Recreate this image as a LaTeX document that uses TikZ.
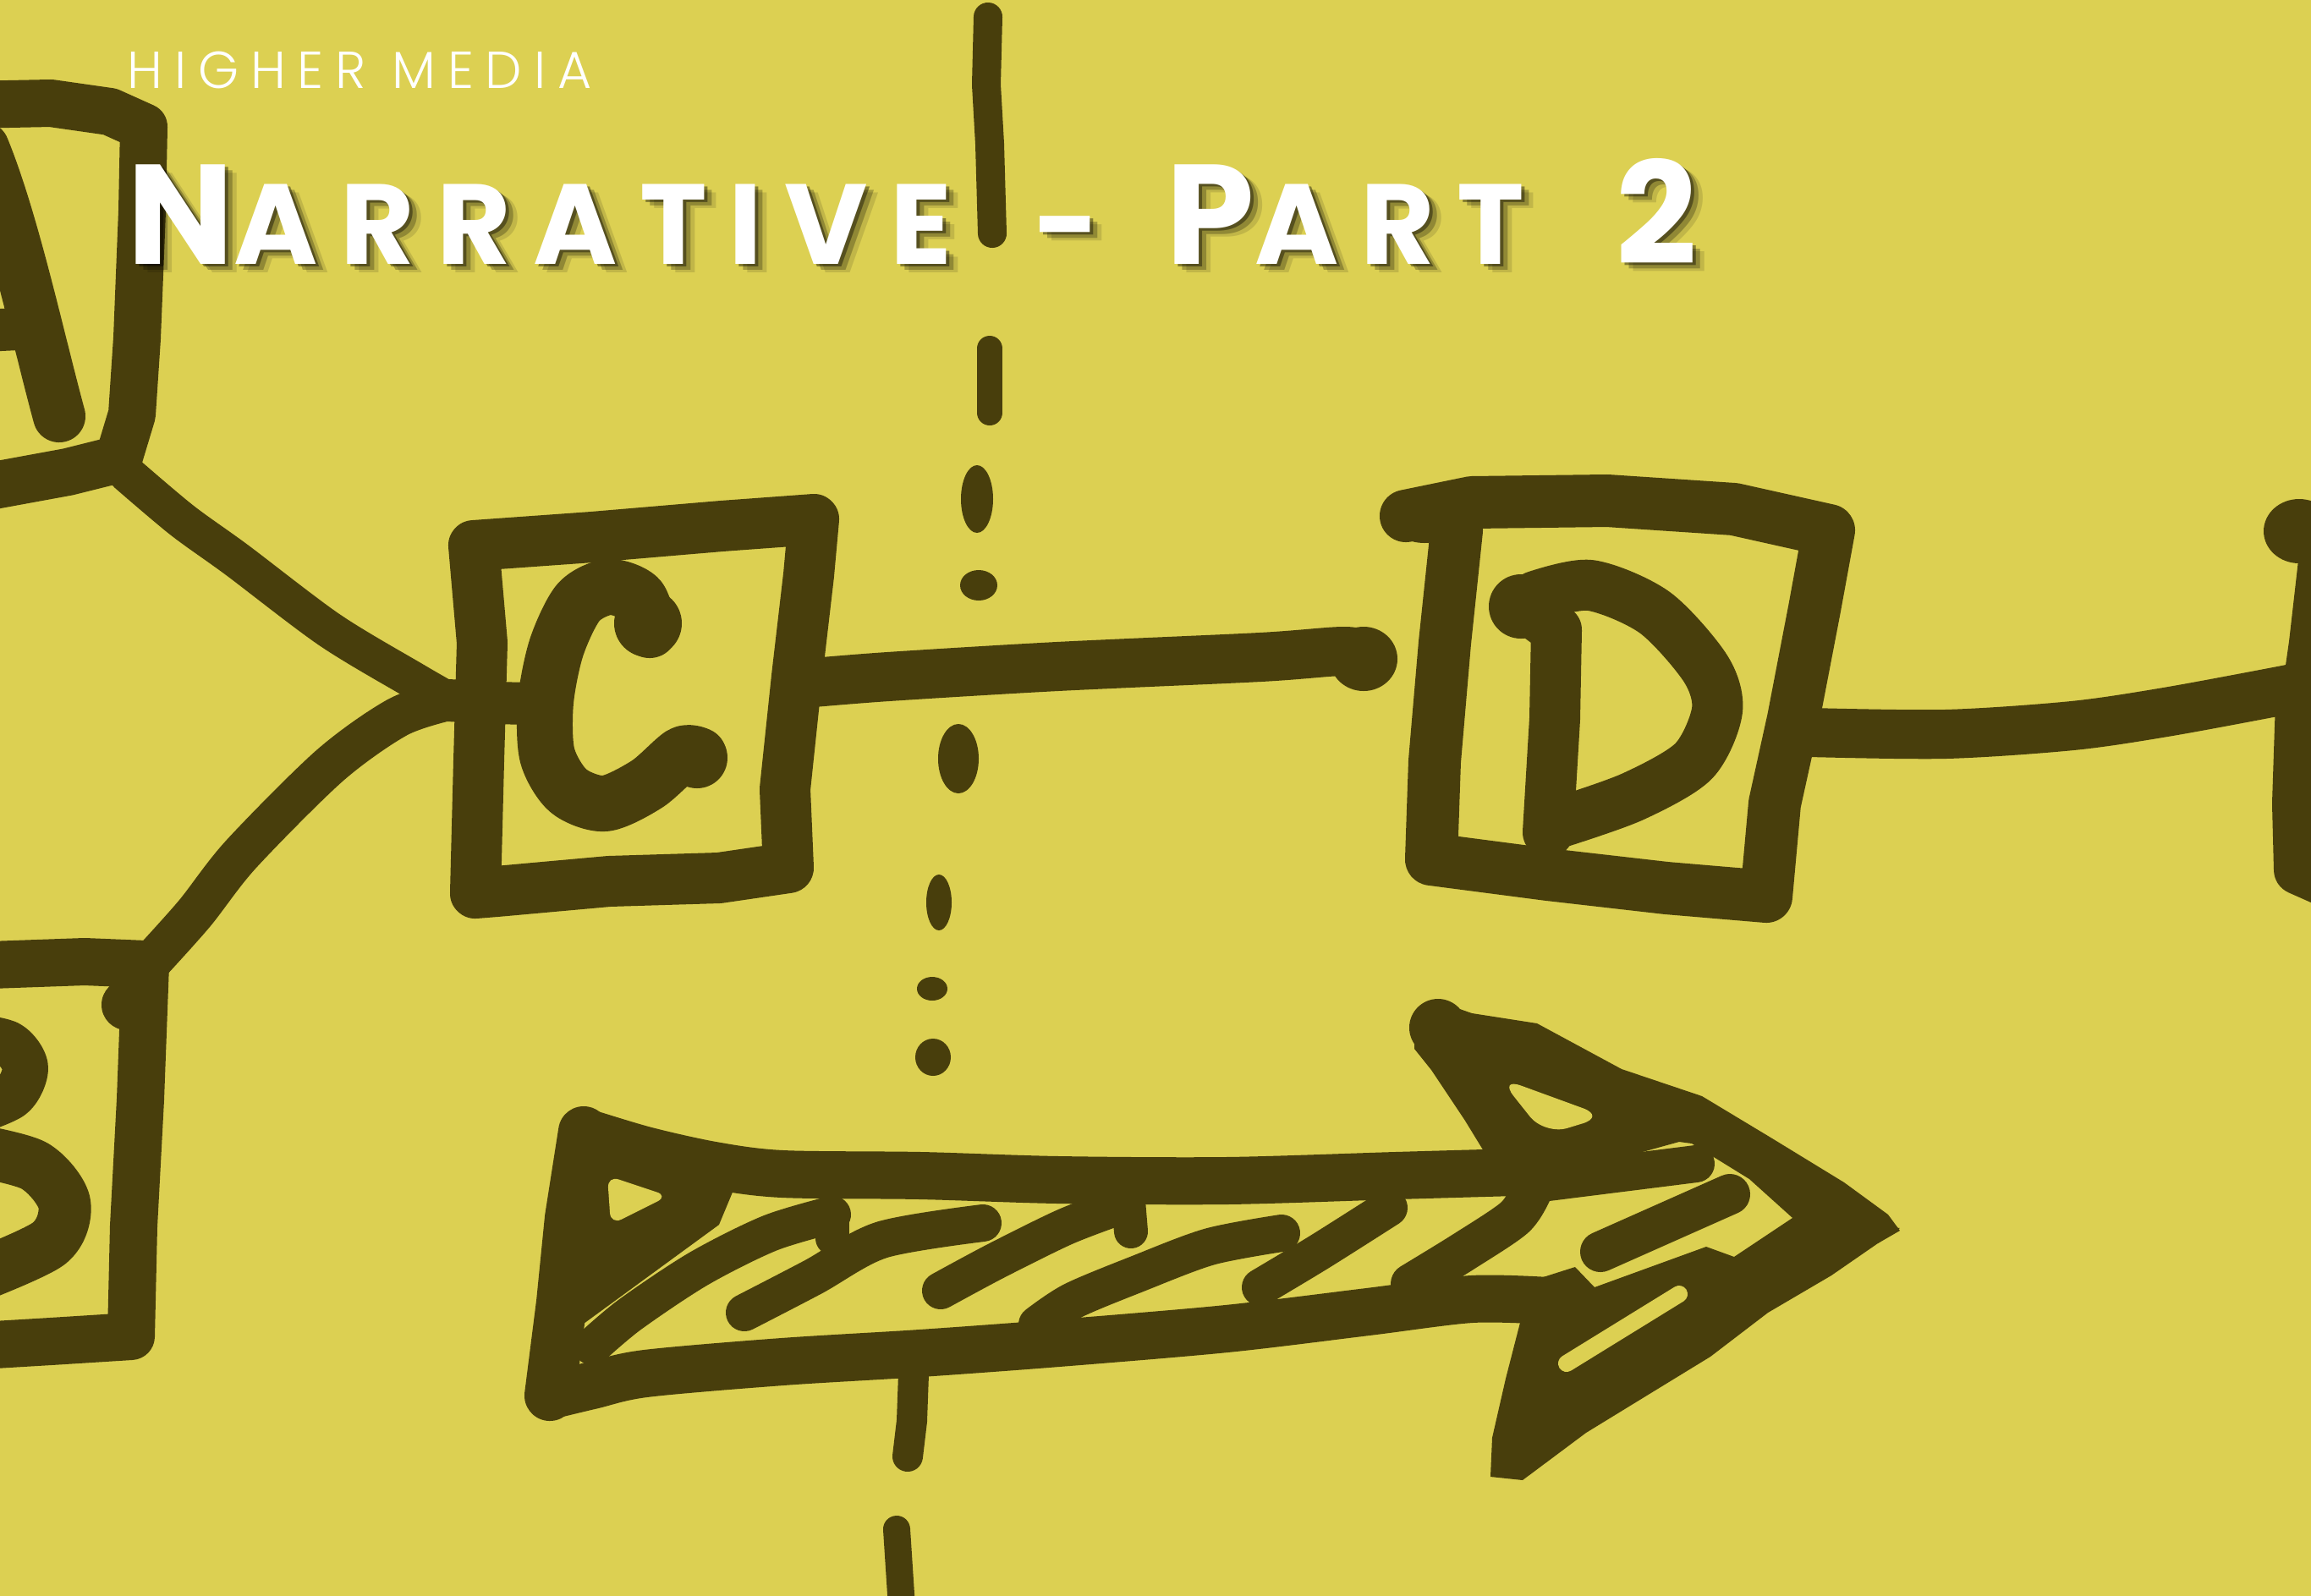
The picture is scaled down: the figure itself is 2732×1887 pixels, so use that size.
\documentclass[tikz,border=0pt]{standalone}
\usepackage{fontspec}
\newfontfamily\titlefont{Poppins Bold}[LetterSpace=19.5]
\newfontfamily\labelfont{Poppins Light}[LetterSpace=22.5]
\definecolor{bg}{RGB}{220,208,82}
\definecolor{ink}{RGB}{72,62,12}
\newcommand\tbig[1]{{\fontsize{47.7pt}{50pt}\selectfont #1}}
\newcommand\tsmall[1]{{\fontsize{38.3pt}{40pt}\selectfont #1}}
\newcommand\shadowed[3]{%
  \foreach \dx/\dy/\op in {4/3/0.4,9/7/0.25,14/10/0.12}{%
    \node[anchor=base west,inner sep=0,text=black,opacity=\op,xshift=\dx*0.01cm,yshift=-\dy*0.01cm] at (#2) {#3};}%
  \node[anchor=base west,inner sep=0,text=white] (#1) at (#2) {#3};}
\begin{document}
\begin{tikzpicture}[x=0.01cm,y=-0.01cm,
  pen/.style={draw=ink,line width=#1*0.2845pt,line cap=round,line join=round}]
\useasboundingbox (0,0) rectangle (2732,1887);
\fill[bg] (0,0) rectangle (2732,1887);
\clip (0,0) rectangle (2732,1887);

% ---- box A (partly off the left edge)
\draw[pen=56] (-40,124) -- (60,122) -- (130,132) -- (170,150) -- (168,250) -- (162,400) -- (156,490) -- (140,543) -- (80,558) -- (-40,580);
\draw[pen=62] (-20,175) .. controls (15,260) and (45,400) .. (70,492);
\draw[pen=50] (-40,392) -- (42,388);

% ---- box B (partly off the left edge)
\draw[pen=56] (-40,1142) -- (100,1137) -- (172,1140) -- (166,1300) -- (158,1450) -- (155,1580) -- (60,1586) -- (-40,1592);
\fill[ink] (150,1188) circle (30);
\draw[pen=54] plot[smooth] coordinates {(-40,1224) (10,1234) (30,1262) (14,1296) (-40,1318)};
\draw[pen=62] plot[smooth] coordinates {(-40,1358) (40,1378) (76,1422) (58,1470) (-40,1514)};

% ---- connectors into C
\coordinate (j) at (530,828);
\draw[pen=44] plot[smooth] coordinates {(150,560) (215,615) (280,662) (390,745) (490,805) (530,828)};
\draw[pen=48] plot[smooth] coordinates {(178,1138) (230,1080) (285,1010) (390,905) (470,848) (530,828)};
\draw[pen=50] (j) -- (580,831) -- (630,832);

% ---- box C
\draw[pen=60] (560,645) -- (700,635) -- (853,622) -- (962,614) -- (956,680) -- (942,800) -- (928,933) -- (932,1026) -- (850,1038) -- (720,1042) -- (587,1054) -- (562,1056) -- (566,900) -- (570,760) -- cycle;
\draw[pen=66] plot[smooth] coordinates {(768,745) (755,707) (720,694) (684,712) (658,765) (645,830) (647,893) (672,935) (715,950) (765,927) (806,892) (826,893)};
\fill[ink] (766,737) circle (40);
\fill[ink] (824,896) circle (36);

% ---- C to D
\draw[pen=58] plot[smooth] coordinates {(950,808) (1050,800) (1250,788) (1490,777) (1590,770) (1620,778)};
\fill[ink] (1612,779) ellipse (40 and 38);

% ---- box D
\draw[pen=62] (1662,610) -- (1740,594) -- (1900,592) -- (2050,602) -- (2162,627) -- (2145,720) -- (2120,850) -- (2098,950) -- (2088,1060) -- (1970,1050) -- (1830,1034) -- (1692,1016) -- (1696,900) -- (1708,760) -- (1722,627);
\fill[ink] (1684,614) ellipse (40 and 28);
\draw[pen=60] (1800,715) -- (1840,745) -- (1838,850) -- (1830,984);
\draw[pen=60] plot[smooth] coordinates {(1815,705) (1880,692) (1956,724) (2016,790) (2030,840) (2002,900) (1930,942) (1845,972)};
\fill[ink] (1798,717) circle (38);

% ---- D to E
\draw[pen=58] plot[smooth] coordinates {(2140,866) (2300,868) (2450,858) (2560,842) (2690,818) (2750,806)};
\fill[ink] (2718,628) ellipse (42 and 38);
\draw[pen=44] (2740,655) -- (2728,760) -- (2718,830);
\draw[pen=60] (2720,830) -- (2716,950) -- (2718,1028) -- (2745,1040);

% ---- dashed divider
\draw[pen=34] (1168,20) -- (1166,100) -- (1170,170) -- (1173,276);
\draw[pen=30] (1170,412) -- (1170,488);
\fill[ink] (1155,590) ellipse (19 and 40);
\fill[ink] (1157,692) ellipse (22 and 18);
\fill[ink] (1133,897) ellipse (24 and 41);
\fill[ink] (1110,1067) ellipse (15 and 33);
\fill[ink] (1102,1169) ellipse (18 and 14);
\fill[ink] (1103,1250) ellipse (21 and 22);
\draw[pen=36] (1080,1625) -- (1078,1680) -- (1073,1722);
\draw[pen=32] (1060,1808) -- (1066,1900);

% ---- big arrow: shaft
\draw[pen=56] plot[smooth] coordinates {(690,1338) (763,1360) (844,1378) (925,1388) (1088,1390) (1251,1395) (1450,1396) (1650,1390) (1790,1386)};
\draw[pen=60] (690,1338) -- (674,1440) -- (664,1540) -- (650,1650);
\draw[pen=56] plot[smooth] coordinates {(650,1650) (700,1638) (763,1624) (925,1610) (1088,1600) (1251,1588) (1450,1571) (1617,1551) (1740,1536) (1830,1538)};
\fill[ink] (680,1330) -- (800,1360) -- (875,1388) -- (850,1448) -- (690,1565) -- cycle;
\fill[bg,rounded corners=4] (718,1390) -- (790,1414) -- (722,1448) -- cycle;
% hatching
\draw[pen=44] plot[smooth] coordinates {(700,1592) (745,1554) (826,1500) (910,1458) (984,1436)};
\draw[pen=40] (984,1438) -- (984,1464);
\draw[pen=44] plot[smooth] coordinates {(880,1552) (961,1510) (1042,1466) (1162,1446)};
\draw[pen=44] plot[smooth] coordinates {(1112,1526) (1177,1491) (1258,1451) (1318,1428)};
\draw[pen=40] (1334,1420) -- (1337,1456);
\draw[pen=44] plot[smooth] coordinates {(1226,1566) (1268,1538) (1345,1506) (1430,1474) (1515,1458)};
\draw[pen=44] plot[smooth] coordinates {(1490,1522) (1560,1480) (1642,1428)};
\draw[pen=48] plot[smooth] coordinates {(1668,1518) (1730,1480) (1790,1440) (1810,1410)};

% ---- big arrow: head
\fill[ink] (1672,1200) -- (1700,1184) -- (1740,1198) -- (1817,1210) -- (1917,1264) -- (2012,1296) -- (2095,1346) -- (2180,1398) -- (2232,1436) -- (2246,1455) -- (2220,1470) -- (2128,1448) -- (2068,1394) -- (2000,1352) -- (1985,1350) -- (1920,1368) -- (1850,1390) -- (1795,1412) -- (1762,1374) -- (1732,1325) -- (1692,1265) -- (1672,1240) -- cycle;
\fill[ink] (1700,1215) circle (34);
\fill[bg,rounded corners=8] (1772,1274) -- (1898,1320) -- (1826,1342) -- cycle;
\fill[ink] (2246,1452) -- (2165,1508) -- (2090,1552) -- (2022,1604) -- (1955,1645) -- (1875,1694) -- (1800,1750) -- (1762,1746) -- (1764,1700) -- (1780,1630) -- (1798,1560) -- (1818,1512) -- (1862,1498) -- (1885,1522) -- (2017,1474) -- (2050,1486) -- (2125,1436) -- cycle;
\draw[bg,line width=20*0.2845pt,line cap=round] (1852,1612) -- (1985,1530);
\draw[pen=44] (1830,1398) -- (2005,1376);
\draw[pen=48] (1892,1480) -- (2045,1412);

% ---- titles
\node[anchor=base west,inner sep=0,text=white] (sub) at (150,104) {\labelfont\fontsize{17.5pt}{20pt}\selectfont HIGHER MEDIA};
\shadowed{w1}{150,312}{\titlefont\tbig{N}\tsmall{ARRATIVE}}
\shadowed{w2}{1222,312}{\titlefont\tsmall{-}}
\shadowed{w3}{1378,312}{\titlefont\tbig{P}\tsmall{ART}}
\shadowed{w4}{1910,312}{\titlefont\tbig{2}}
\end{tikzpicture}
\end{document}
